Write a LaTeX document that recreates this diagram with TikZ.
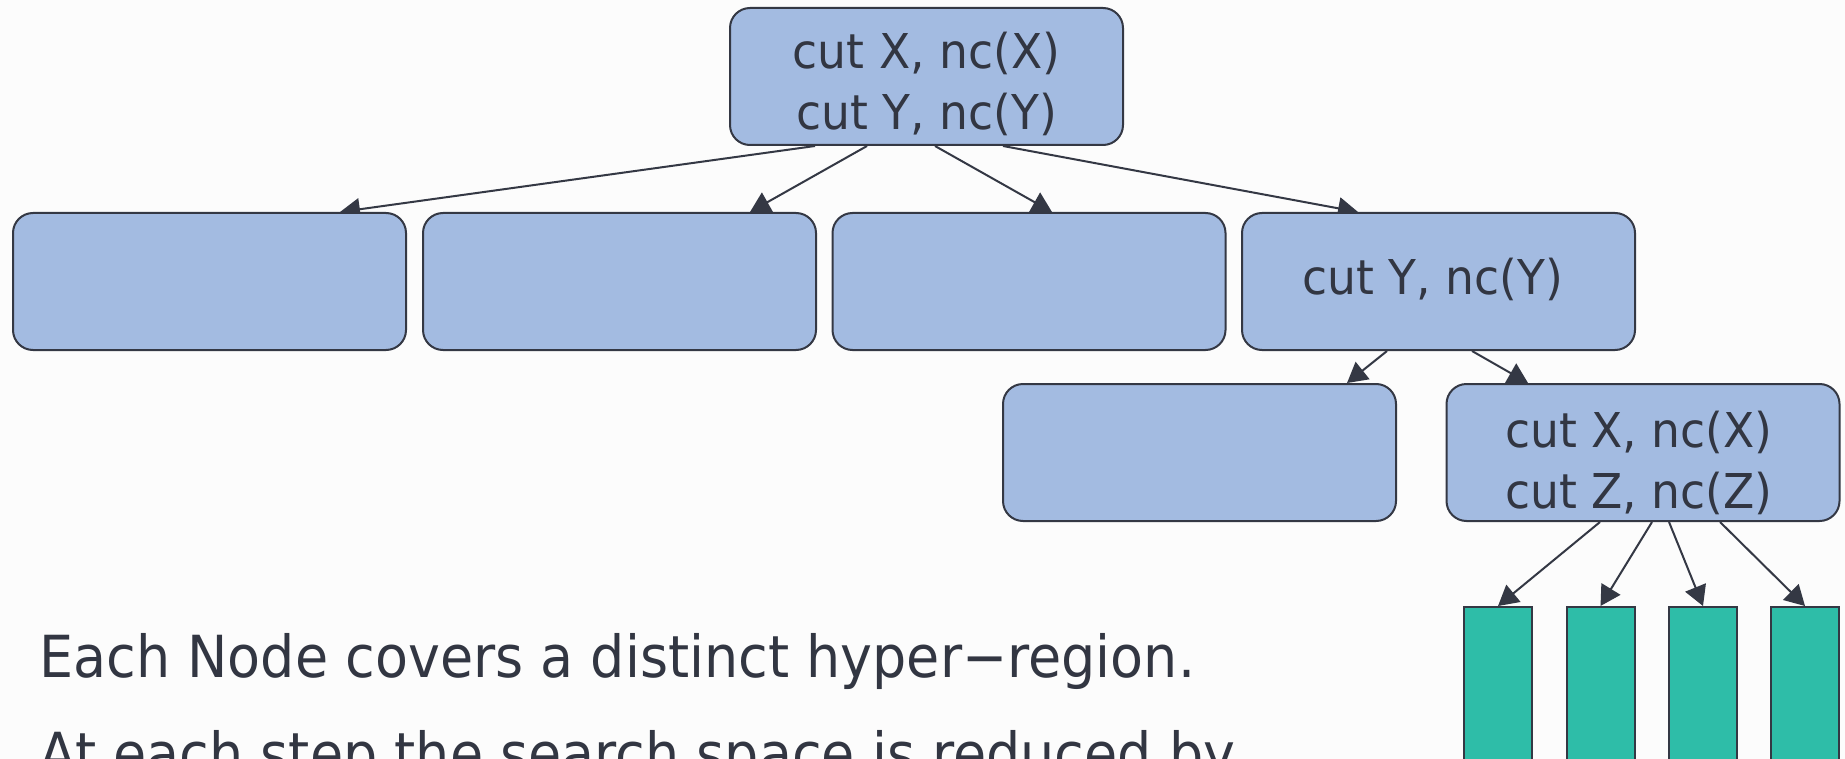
\documentclass[tikz,border=0pt]{standalone}
\usepackage{fontspec}
\setmainfont{DejaVu Sans}
\newfontfamily\boxfont[FakeStretch=0.95]{DejaVu Sans}
\newfontfamily\notefont[FakeStretch=0.93]{DejaVu Sans}
\usetikzlibrary{arrows.meta,calc}

\definecolor{paper}{RGB}{252,252,252}
\definecolor{nodeblue}{RGB}{163,187,225}
\definecolor{inkdark}{RGB}{52,56,68}
\definecolor{leafteal}{RGB}{46,189,168}
\definecolor{textdark}{RGB}{50,54,66}

\pgfdeclarelayer{bg}
\pgfdeclarelayer{edges}
\pgfsetlayers{bg,edges,main}

\begin{document}
\begin{tikzpicture}[x=0.5pt,y=-0.5pt,
  region/.style={draw=inkdark, line width=1pt, fill=nodeblue,
    rounded corners=10pt, minimum width=196.5pt, minimum height=68.5pt,
    inner sep=0pt},
  boxtext/.style={inner sep=0pt, align=center, text=textdark,
    font=\boxfont\fontsize{24}{30.5}\selectfont},
  leaf/.style={draw=inkdark, line width=1pt, fill=leafteal,
    minimum width=34pt, minimum height=92pt, inner sep=0pt, anchor=north},
  link/.style={draw=inkdark, line width=1pt,
    -{Triangle[length=10pt,width=11pt]}},
  note/.style={anchor=base west, inner sep=0pt, text=textdark,
    font=\notefont\fontsize{29}{35}\selectfont}]

\useasboundingbox (0,0) rectangle (1845,759);
\clip (0,0) rectangle (1845,759);
\begin{pgfonlayer}{bg}
  \fill[paper] (0,0) rectangle (1845,759);
\end{pgfonlayer}

% tree of regions
\node[region] (root) at (926.5,76.5) {};
\node[region] (c1) at (209.5,281.5) {};
\node[region] (c2) at (619.5,281.5) {};
\node[region] (c3) at (1029,281.5) {};
\node[region] (c4) at (1438.5,281.5) {};
\node[region] (d1) at (1199.5,452.5) {};
\node[region] (d2) at (1643,452.5) {};

% cut descriptions inside the regions
\node[boxtext] (root-t) at ($(root.center)+(0,7)$) {cut X, nc(X)\\cut Y, nc(Y)};
\node[boxtext] (c4-t) at ($(c4.center)+(-6,-2)$) {cut Y, nc(Y)};
\node[boxtext] (d2-t) at ($(d2.center)+(-4,10)$) {cut X, nc(X)\\cut Z, nc(Z)};

% leaf cells
\node[leaf] (g1) at (1498,606) {};
\node[leaf] (g2) at (1600.5,606) {};
\node[leaf] (g3) at (1703,606) {};
\node[leaf] (g4) at (1805,606) {};

% connectors, kept beneath the boxes
\begin{pgfonlayer}{edges}
  \draw[link] ($(root.south)+(-111.5,0)$) -- ($(c1.north)+(130.5,0)$);
  \draw[link] ($(root.south)+(-59.5,0)$) -- ($(c2.north)+(130.5,0)$);
  \draw[link] ($(root.south)+(8.5,0)$) -- ($(c3.north)+(23,0)$);
  \draw[link] ($(root.south)+(76.5,0)$) -- ($(c4.north)+(-80.5,0)$);
  \draw[link] ($(c4.south)+(-51.5,0)$) -- ($(d1.north)+(147.5,0)$);
  \draw[link] ($(c4.south)+(33.5,0)$) -- ($(d2.north)+(-115,0)$);
  \draw[link] ($(d2.south)+(-43,0)$) -- (g1.north);
  \draw[link] ($(d2.south)+(9,0)$) -- (g2.north);
  \draw[link] ($(d2.south)+(26,0)$) -- (g3.north);
  \draw[link] ($(d2.south)+(77,0)$) -- (g4.north);
\end{pgfonlayer}

% notes
\node[note] (n1) at (39,677) {Each Node covers a distinct hyper−region.};
\node[note] (n2) at (39,774) {At each step the search space is reduced by};
\end{tikzpicture}
\end{document}
